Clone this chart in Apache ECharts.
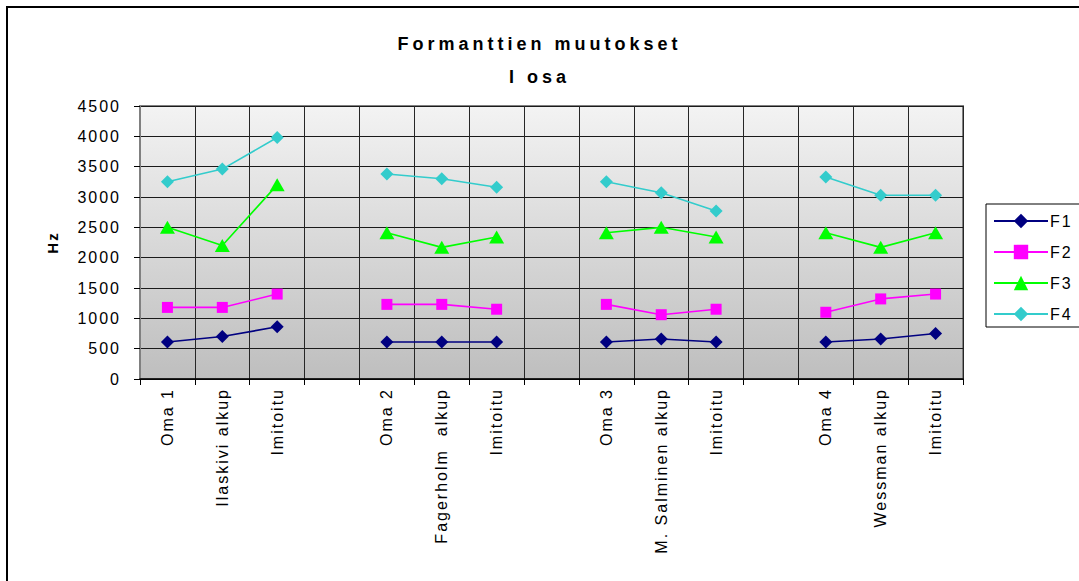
<!DOCTYPE html>
<html>
<head>
<meta charset="utf-8">
<script src="https://cdn.jsdelivr.net/npm/echarts@6/dist/echarts.min.js"></script>
<style>
  html, body { margin: 0; padding: 0; background: #ffffff; }
  #chart { width: 1079px; height: 581px; }
  /* wide, spaced lettering for all chart text */
  #chart text { letter-spacing: 2px; }
  /* the two heading lines are spaced even wider */
  #chart text[style*="Arial"], #chart text[font-family*="Arial"] { letter-spacing: 4px; }
</style>
</head>
<body>
<div id="chart"></div>
<script>
// Category labels; empty strings separate the four groups
var categories = [
  'Oma 1', 'Ilaskivi alkup', 'Imitoitu', '',
  'Oma 2', 'Fagerholm  alkup', 'Imitoitu', '',
  'Oma 3', 'M. Salminen alkup', 'Imitoitu', '',
  'Oma 4', 'Wessman alkup', 'Imitoitu'
];

// Formant frequencies (Hz); '-' leaves a gap between groups
var f1 = [610, 700, 860, '-', 610, 610, 610, '-', 610, 660, 610, '-', 610, 660, 750];
var f2 = [1180, 1180, 1400, '-', 1230, 1230, 1150, '-', 1230, 1060, 1150, '-', 1100, 1320, 1400];
var f3 = [2500, 2200, 3200, '-', 2410, 2170, 2340, '-', 2410, 2500, 2340, '-', 2410, 2170, 2410];
var f4 = [3250, 3460, 3980, '-', 3380, 3300, 3160, '-', 3250, 3070, 2770, '-', 3330, 3030, 3030];

var titleText = 'Formanttien muutokset';
var subtitleText = 'I osa';
var yAxisName = 'Hz';

var chart = echarts.init(document.getElementById('chart'), null, { renderer: 'svg' });

var font = 'Liberation Sans, sans-serif';
var headFont = 'Arial, Liberation Sans, sans-serif';

function makeSeries(name, data, color, symbol, size) {
  return {
    name: name,
    type: 'line',
    data: data,
    symbol: symbol,
    symbolSize: size,
    showSymbol: true,
    connectNulls: false,
    lineStyle: { color: color, width: 1.6 },
    itemStyle: { color: color, borderWidth: 0 },
    emphasis: { disabled: true },
    animation: false
  };
}

var option = {
  backgroundColor: '#ffffff',
  animation: false,
  title: [
    {
      text: titleText,
      left: 'center',
      top: 30,
      textStyle: { fontFamily: headFont, fontSize: 18, fontWeight: 'bold', color: '#000' }
    },
    {
      text: subtitleText,
      left: 'center',
      top: 63,
      textStyle: { fontFamily: headFont, fontSize: 18, fontWeight: 'bold', color: '#000' }
    }
  ],
  legend: {
    orient: 'vertical',
    left: 986,
    top: 204,
    padding: [9, 40, 5, 7],
    itemWidth: 54,
    itemHeight: 18,
    itemGap: 15,
    borderColor: '#000',
    borderWidth: 1,
    backgroundColor: '#ffffff',
    textStyle: { fontFamily: font, fontSize: 16, color: '#000', padding: [0, 0, 0, -3] },
    data: ['F1', 'F2', 'F3', 'F4']
  },
  grid: {
    left: 140,
    right: 116,
    top: 106,
    bottom: 202,
    show: true,
    borderColor: '#808080',
    borderWidth: 2,
    backgroundColor: new echarts.graphic.LinearGradient(0, 0, 0, 1, [
      { offset: 0, color: '#f3f3f3' },
      { offset: 1, color: '#bebebe' }
    ])
  },
  xAxis: {
    type: 'category',
    data: categories,
    boundaryGap: true,
    axisLine: { show: true, lineStyle: { color: '#000', width: 1.5 } },
    axisTick: { show: true, alignWithLabel: false, interval: 0, length: 6, lineStyle: { color: '#000' } },
    axisLabel: {
      interval: 0,
      rotate: 90,
      margin: 9,
      fontFamily: font,
      fontSize: 16,
      color: '#000'
    },
    splitLine: { show: true, interval: 0, lineStyle: { color: '#262626', width: 1 } }
  },
  yAxis: {
    type: 'value',
    min: 0,
    max: 4500,
    interval: 500,
    name: yAxisName,
    nameLocation: 'middle',
    nameGap: 80,
    nameRotate: 90,
    nameTextStyle: { fontFamily: font, fontSize: 15, fontWeight: 'bold', color: '#000' },
    axisLine: { show: true, lineStyle: { color: '#808080', width: 2 } },
    axisTick: { show: true, length: 6, lineStyle: { color: '#000' } },
    axisLabel: {
      fontFamily: font,
      fontSize: 16,
      color: '#000',
      margin: 19,
      formatter: function (v) { return String(v); }
    },
    splitLine: { show: true, lineStyle: { color: '#1a1a1a', width: 1 } }
  },
  graphic: [
    {
      type: 'rect',
      silent: true,
      z: 100,
      shape: { x: 7, y: 7, width: 1200, height: 700 },
      style: { fill: 'none', stroke: '#000', lineWidth: 2 }
    }
  ],
  series: [
    makeSeries('F1', f1, '#000080', 'diamond', 13),
    makeSeries('F2', f2, '#ff00ff', 'rect', 11),
    makeSeries('F3', f3, '#00ff00', 'triangle', [15, 13]),
    makeSeries('F4', f4, '#33cccc', 'diamond', 13)
  ]
};

chart.setOption(option);
</script>
</body>
</html>
